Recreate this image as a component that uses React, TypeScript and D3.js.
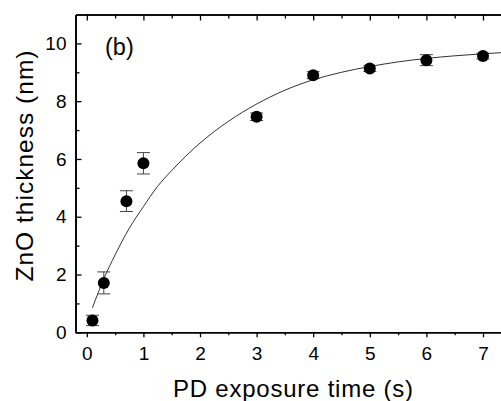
import React, { useEffect, useRef } from "react";
import * as d3 from "d3";

const width = 501;
const height = 401;

// measured points: exposure time (s), thickness (nm), error (nm)
const times = [0.1, 0.3, 0.7, 1.0, 3.0, 4.0, 5.0, 6.0, 7.0];
const thickness = [0.41, 1.71, 4.54, 5.85, 7.46, 8.9, 9.13, 9.42, 9.56];
const errors = [0.18, 0.38, 0.36, 0.37, 0.13, 0.12, 0.1, 0.19, 0.1];

// fitted curve
const fitTimes = [0.1, 0.3, 0.5, 0.75, 1.0, 1.25, 1.5, 2.0, 2.5, 3.0, 3.5, 4.0, 4.5, 5.0, 5.5, 6.0, 6.5, 7.0, 7.5];
const fitThickness = [0.85, 1.85, 2.68, 3.6, 4.35, 5.05, 5.6, 6.55, 7.3, 7.9, 8.38, 8.74, 9.0, 9.2, 9.36, 9.48, 9.57, 9.64, 9.7];

const xMajor = [0, 1, 2, 3, 4, 5, 6, 7];
const xMinor = [0.5, 1.5, 2.5, 3.5, 4.5, 5.5, 6.5, 7.5];
const yMajor = [0, 2, 4, 6, 8, 10];
const yMinor = [1, 3, 5, 7, 9];

const font = "Arial, 'Liberation Sans', sans-serif";

const x = d3.scaleLinear().domain([-0.2, 7.7]).range([75.5, 522.6]);
const y = d3.scaleLinear().domain([0, 11]).range([332.3, 14.5]);

const App = () => {
  const bottomRef = useRef<SVGGElement>(null);
  const bottomMinorRef = useRef<SVGGElement>(null);
  const topRef = useRef<SVGGElement>(null);
  const topMinorRef = useRef<SVGGElement>(null);
  const leftRef = useRef<SVGGElement>(null);
  const leftMinorRef = useRef<SVGGElement>(null);

  useEffect(() => {
    const style = (g) => {
      g.select(".domain").attr("stroke", "#000").attr("stroke-width", 1.6);
      g.selectAll(".tick line").attr("stroke", "#000").attr("stroke-width", 1.3);
      g.selectAll(".tick text")
        .attr("fill", "#000")
        .style("font-family", font)
        .style("font-size", "19px");
    };

    d3.select(bottomRef.current)
      .call(d3.axisBottom(x).tickValues(xMajor).tickSize(5).tickSizeOuter(0).tickPadding(9))
      .call(style);
    d3.select(bottomMinorRef.current)
      .call(d3.axisBottom(x).tickValues(xMinor).tickSize(3).tickSizeOuter(0).tickFormat(() => ""))
      .call(style);
    d3.select(topRef.current)
      .call(d3.axisTop(x).tickValues(xMajor).tickSize(-6).tickSizeOuter(0).tickFormat(() => ""))
      .call(style);
    d3.select(topMinorRef.current)
      .call(d3.axisTop(x).tickValues(xMinor).tickSize(-4).tickSizeOuter(0).tickFormat(() => ""))
      .call(style);
    d3.select(leftRef.current)
      .call(d3.axisLeft(y).tickValues(yMajor).tickSize(-6).tickSizeOuter(0).tickPadding(9))
      .call(style);
    d3.select(leftMinorRef.current)
      .call(d3.axisLeft(y).tickValues(yMinor).tickSize(-4).tickSizeOuter(0).tickFormat(() => ""))
      .call(style);
  }, []);

  const fitLine = d3
    .line<number>()
    .x((d, i) => x(fitTimes[i]))
    .y((d) => y(d))
    .curve(d3.curveMonotoneX);

  return (
    <svg
      width={width}
      height={height}
      style={{ position: "absolute", left: 0, top: 0, background: "#fff" }}
    >
      <path d={fitLine(fitThickness)} fill="none" stroke="#333" strokeWidth={1} />

      {times.map((t, i) => (
        <g key={t}>
          <line
            x1={x(t)}
            x2={x(t)}
            y1={y(thickness[i] - errors[i])}
            y2={y(thickness[i] + errors[i])}
            stroke="#444"
            strokeWidth={1}
          />
          <line x1={x(t) - 6.5} x2={x(t) + 6.5} y1={y(thickness[i] - errors[i])} y2={y(thickness[i] - errors[i])} stroke="#444" strokeWidth={1} />
          <line x1={x(t) - 6.5} x2={x(t) + 6.5} y1={y(thickness[i] + errors[i])} y2={y(thickness[i] + errors[i])} stroke="#444" strokeWidth={1} />
          <circle cx={x(t)} cy={y(thickness[i])} r={6} fill="#000" />
        </g>
      ))}

      <g ref={bottomMinorRef} transform={`translate(0,${y(0)})`} />
      <g ref={bottomRef} transform={`translate(0,${y(0)})`} />
      <g ref={topMinorRef} transform={`translate(0,${y(11)})`} />
      <g ref={topRef} transform={`translate(0,${y(11)})`} />
      <g ref={leftMinorRef} transform={`translate(${x(-0.2)},0)`} />
      <g ref={leftRef} transform={`translate(${x(-0.2)},0)`} />

      <text x={105} y={55} fontFamily={font} fontSize={23.5} fill="#000">
        (b)
      </text>

      <text
        x={293}
        y={397}
        textAnchor="middle"
        fontFamily={font}
        fontSize={24}
        textLength={240}
        lengthAdjust="spacing"
        fill="#000"
      >
        PD exposure time (s)
      </text>

      <text
        transform={`translate(32.5,166) rotate(-90)`}
        textAnchor="middle"
        fontFamily={font}
        fontSize={24.5}
        textLength={231}
        lengthAdjust="spacing"
        fill="#000"
      >
        ZnO thickness (nm)
      </text>
    </svg>
  );
};

export default App;
